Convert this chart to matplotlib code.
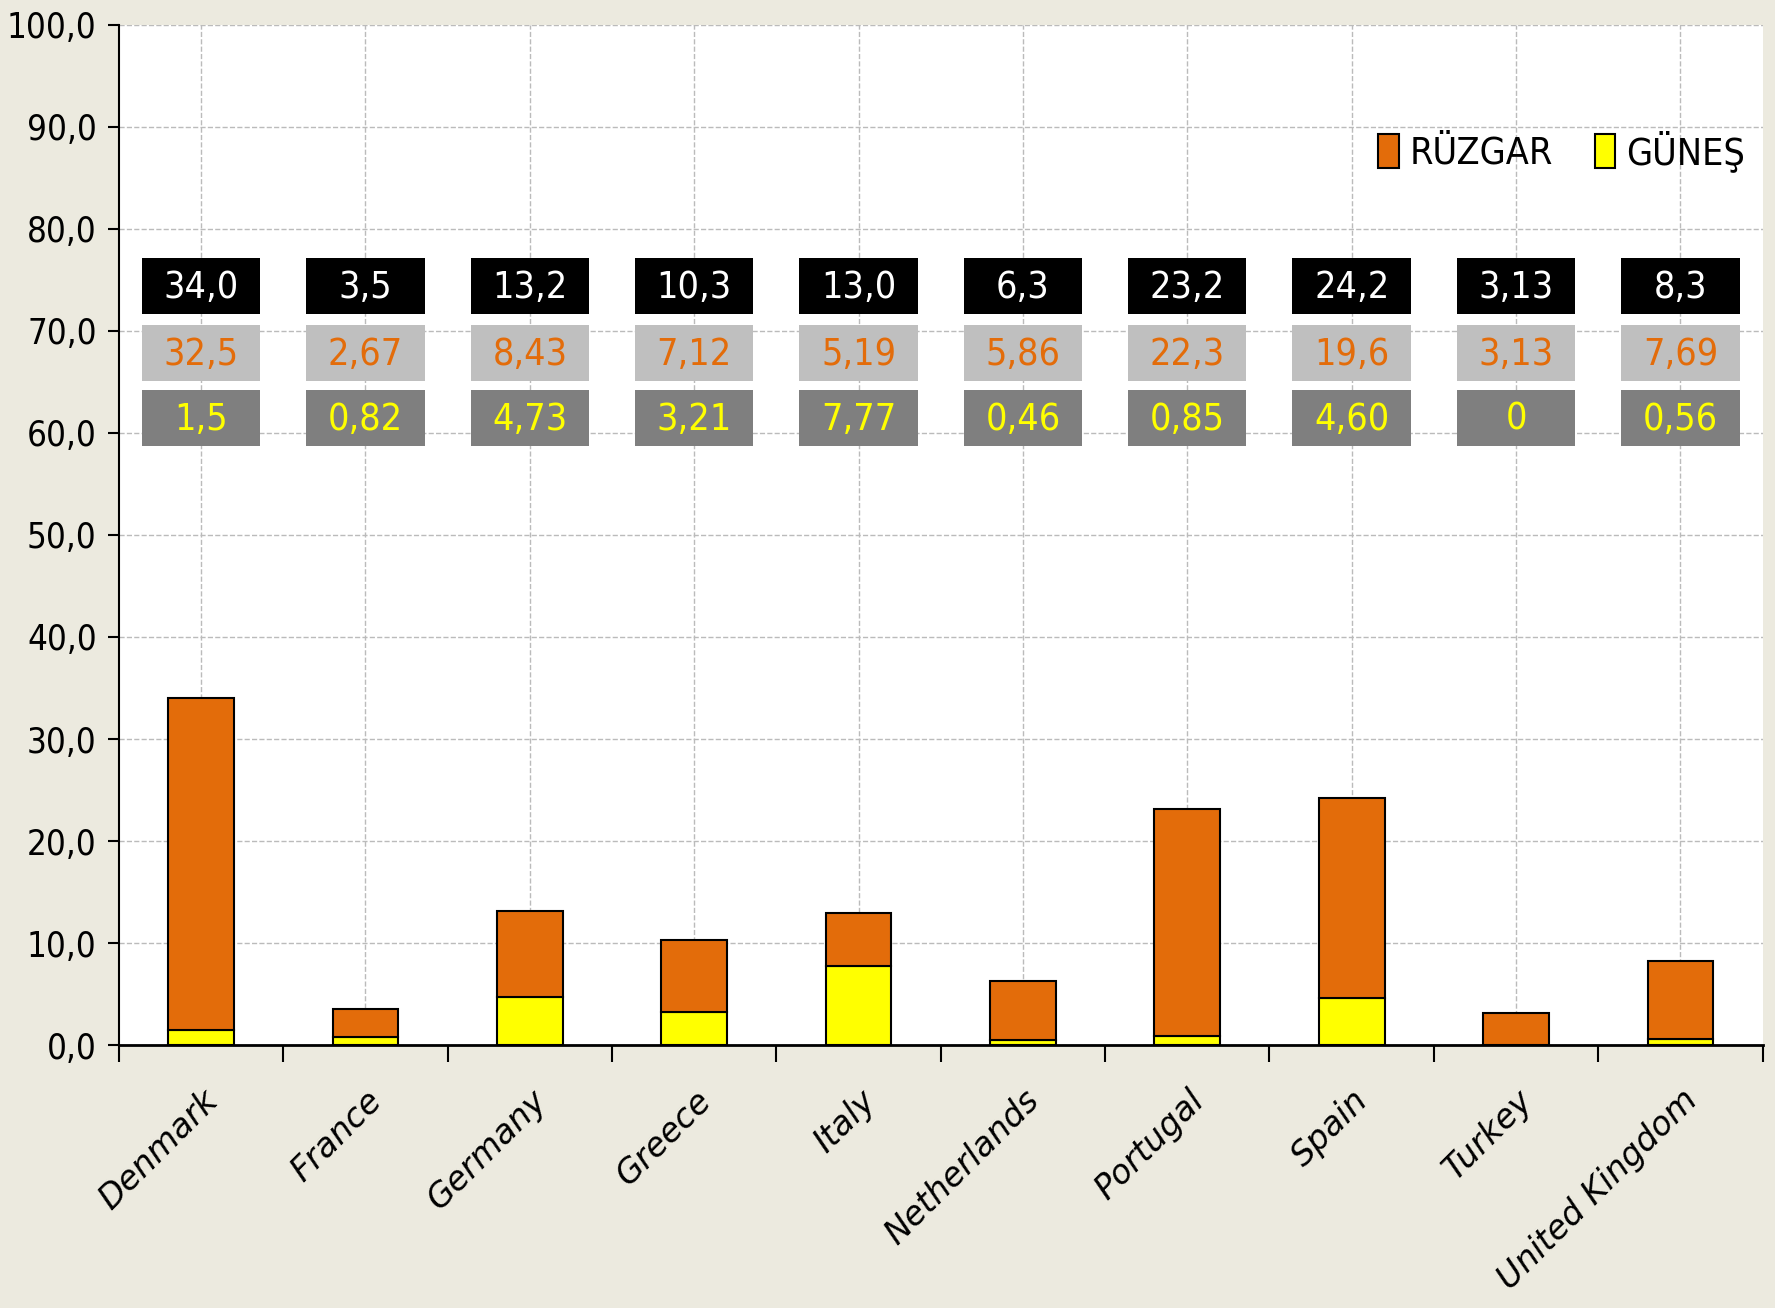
import matplotlib.pyplot as plt
from matplotlib.patches import Rectangle
import numpy as np

countries = ['Denmark', 'France', 'Germany', 'Greece', 'Italy',
             'Netherlands', 'Portugal', 'Spain', 'Turkey', 'United Kingdom']
ruzgar = [32.5, 2.67, 8.43, 7.12, 5.19, 5.86, 22.3, 19.6, 3.13, 7.69]
gunes = [1.5, 0.82, 4.73, 3.21, 7.77, 0.46, 0.85, 4.60, 0, 0.56]
toplam_txt = ['34,0', '3,5', '13,2', '10,3', '13,0', '6,3', '23,2', '24,2', '3,13', '8,3']
ruzgar_txt = ['32,5', '2,67', '8,43', '7,12', '5,19', '5,86', '22,3', '19,6', '3,13', '7,69']
gunes_txt = ['1,5', '0,82', '4,73', '3,21', '7,77', '0,46', '0,85', '4,60', '0', '0,56']

BG = '#ECEADF'
ORANGE = '#E36C0A'
YELLOW = '#FFFF00'

plt.rcParams['font.family'] = ['DejaVu Sans']
plt.rcParams['font.stretch'] = 'condensed'

fig = plt.figure(figsize=(17.75, 13.08), dpi=100, facecolor=BG)
ax = fig.add_axes([0.067, 0.201, 0.926, 0.78])
ax.set_facecolor('white')

x = np.arange(len(countries))
ax.bar(x, gunes, 0.4, color=YELLOW, edgecolor='black', linewidth=1.5, label='GÜNEŞ', zorder=3)
ax.bar(x, ruzgar, 0.4, bottom=gunes, color=ORANGE, edgecolor='black', linewidth=1.5,
       label='RÜZGAR', zorder=3)

# value boxes: total / wind / solar
rows = [(74.4, toplam_txt, 'black', 'white'),
        (67.8, ruzgar_txt, '#BFBFBF', ORANGE),
        (61.5, gunes_txt, '#7F7F7F', YELLOW)]
for yc, texts, fc, tc in rows:
    for i, t in enumerate(texts):
        ax.add_patch(Rectangle((i - 0.36, yc - 2.75), 0.72, 5.5, facecolor=fc,
                               edgecolor='none', zorder=4))
        ax.text(i, yc - 0.2, t, ha='center', va='center', color=tc, fontsize=27,
                zorder=5)

ax.set_xlim(-0.5, len(countries) - 0.5)
ax.set_ylim(0, 100)
ax.set_yticks(np.arange(0, 101, 10))
ax.set_yticklabels([f'{v:.1f}'.replace('.', ',') for v in range(0, 101, 10)], fontsize=25)
ax.set_xticks(x)
ax.set_xticklabels(countries, rotation=45, ha='right', rotation_mode='anchor',
                   fontsize=24, style='italic', fontstretch='normal')
ax.set_xticks(np.arange(-0.5, len(countries)), minor=True)
ax.tick_params(axis='x', which='major', length=0, pad=28)
ax.tick_params(axis='x', which='minor', length=12, width=1.5, direction='out')
ax.tick_params(axis='y', length=8, width=1.5, direction='out', pad=8)

ax.grid(True, which='major', color='#BBBBBB', linestyle='--', linewidth=1, zorder=0)
ax.set_axisbelow(True)
for s in ['top', 'right']:
    ax.spines[s].set_visible(False)
ax.spines['left'].set_linewidth(1.5)
ax.spines['bottom'].set_linewidth(2)

h, l = ax.get_legend_handles_labels()
ax.legend(h[::-1], l[::-1], loc='upper right', bbox_to_anchor=(1.01, 0.93), ncol=2,
          frameon=False, fontsize=27, handlelength=0.55, handleheight=1.0,
          handletextpad=0.3, columnspacing=1.1)

fig.savefig('out.png', dpi=100, facecolor=BG)
